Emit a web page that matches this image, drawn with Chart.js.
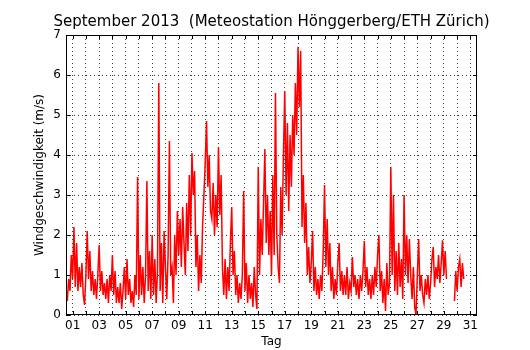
<!DOCTYPE html>
<html>
<head>
<meta charset="utf-8">
<script src="https://cdn.jsdelivr.net/npm/chart.js@4.4.1/dist/chart.umd.min.js"></script>
<style>
  html, body { margin: 0; padding: 0; background: #fff; }
</style>
</head>
<body>
<canvas id="wind-chart" width="530" height="350"></canvas>
<script>
// samples every 0.1 day, first one at x = 0.5 (start of 1 Sept)
const startDay = 0.5;
const sampleStep = 0.1;

const windDays01to05 = [
  0.7, 0.35, 0.9, 0.6, 1.5, 0.9, 2.2, 0.7, 1.8, 0.6,
  1.2, 0.7, 1.3, 0.5, 0.25, 1.0, 2.1, 0.9, 1.6, 0.6,
  1.1, 0.5, 0.9, 0.4, 1.0, 1.75, 0.6, 1.1, 0.5, 0.8,
  0.4, 0.9, 0.3, 1.0, 0.6, 1.5, 0.5, 1.1, 0.3, 0.7,
  0.3, 0.8, 0.15, 0.6, 1.2, 0.4, 1.4, 0.5, 0.9, 0.3
];
const windDays06to10 = [
  0.6, 0.2, 1.0, 0.5, 3.45, 0.4, 1.5, 0.5, 1.2, 0.3,
  1.0, 3.35, 0.6, 1.6, 0.4, 2.0, 0.5, 1.4, 0.3, 1.1,
  5.8, 0.6, 1.8, 0.3, 2.1, 1.2, 0.4, 1.5, 4.35, 1.0,
  1.2, 0.3, 2.0, 1.0, 2.6, 1.5, 2.4, 1.2, 2.7, 1.8,
  1.0, 2.8, 1.6, 3.5, 2.0, 4.05, 3.0, 3.6, 1.2, 2.0
];
const windDays11to15 = [
  0.6, 1.5, 0.8, 2.2, 3.0, 3.8, 4.85, 3.2, 4.0, 2.6,
  2.4, 3.3, 2.0, 3.0, 2.2, 4.2, 2.5, 3.5, 1.2, 0.5,
  1.4, 0.4, 1.2, 0.6, 1.8, 2.7, 1.0, 1.6, 0.5, 1.0,
  0.3, 0.8, 0.4, 1.0, 3.1, 0.6, 1.3, 0.3, 1.0, 0.4,
  0.8, 0.2, 1.2, 0.5, 0.15, 3.7, 1.0, 2.4, 1.5, 2.8
];
const windDays16to20 = [
  4.15, 1.8, 3.0, 1.5, 2.6, 1.0, 3.5, 1.5, 5.55, 2.0,
  1.2, 0.8, 3.2, 2.0, 4.0, 5.6, 3.0, 4.8, 2.6, 4.5,
  3.2, 5.0, 4.0, 5.8, 4.5, 6.7, 5.2, 6.6, 2.2, 3.5,
  1.8, 2.8, 1.0, 1.7, 0.8, 1.3, 2.1, 0.6, 1.2, 0.5,
  0.9, 0.4, 1.0, 0.6, 1.6, 3.25, 1.2, 2.4, 1.0, 1.8
];
const windDays21to25 = [
  0.6, 1.2, 0.4, 0.9, 0.5, 1.3, 1.8, 0.6, 1.1, 0.5,
  1.0, 0.5, 1.2, 0.4, 0.8, 0.6, 1.45, 0.7, 1.0, 0.5,
  0.9, 0.4, 1.0, 0.6, 1.1, 1.85, 0.7, 1.2, 0.5, 0.9,
  0.4, 1.0, 0.5, 1.2, 0.7, 1.5, 2.0, 0.6, 1.1, 0.3,
  0.9, 0.1, 1.3, 0.5, 0.8, 3.7, 1.0, 3.0, 0.6, 1.6
];
// null = missing measurements (station gap on the 29th/30th)
const windDays26to30 = [
  0.5, 1.8, 0.7, 1.4, 0.4, 3.0, 1.0, 2.0, 0.8, 1.9,
  1.0, 0.4, 1.2, 0.2, 0.0, 1.0, 1.9, 0.6, 1.0, 0.5,
  0.3, 0.9, 0.5, 1.0, 0.4, 0.8, 1.4, 1.7, 0.7, 1.2,
  0.9, 1.5, 0.8, 1.3, 1.87, 1.0, 1.6, 0.9, null, null,
  null, null, null, 0.35, 1.1, 0.6, 1.2, 1.4, 0.7, 1.3,
  0.9
];

const dayTicks = [];
for (let d = 1; d <= 31; d++) dayTicks.push(d);
const speedTicks = [0, 1, 2, 3, 4, 5, 6, 7];

const windSpeed = [].concat(windDays01to05, windDays06to10, windDays11to15,
                            windDays16to20, windDays21to25, windDays26to30);
const windPoints = windSpeed.map((v, i) => ({
  x: +(startDay + i * sampleStep).toFixed(2),
  y: v
}));

const fontFamily = "'DejaVu Sans', sans-serif";
const tickLen = 4;

// matplotlib style frame with inward ticks on all four sides,
// title centred over the plot area instead of the whole canvas
const frameTicks = {
  id: 'frameTicks',
  afterLayout(chart) {
    const t = chart.titleBlock;
    if (t) {
      t.left = 0;
      t.right = chart.chartArea.left + chart.chartArea.right;
      t.width = t.right - t.left;
    }
  },
  afterDatasetsDraw(chart) {
    const { ctx, chartArea: a, scales: { x, y } } = chart;
    ctx.save();
    ctx.strokeStyle = '#000';
    ctx.lineWidth = 1;
    ctx.beginPath();
    x.ticks.forEach(t => {
      const px = Math.round(x.getPixelForValue(t.value)) + 0.5;
      ctx.moveTo(px, a.bottom);
      ctx.lineTo(px, a.bottom - tickLen);
      ctx.moveTo(px, a.top);
      ctx.lineTo(px, a.top + tickLen);
    });
    y.ticks.forEach(t => {
      const py = Math.round(y.getPixelForValue(t.value)) + 0.5;
      ctx.moveTo(a.left, py);
      ctx.lineTo(a.left + tickLen, py);
      ctx.moveTo(a.right, py);
      ctx.lineTo(a.right - tickLen, py);
    });
    ctx.stroke();
    ctx.strokeRect(Math.round(a.left) + 0.5, Math.round(a.top) + 0.5,
                   Math.round(a.width) - 1, Math.round(a.height) - 1);
    ctx.restore();
  }
};

const gridStyle = {
  color: 'rgba(0,0,0,0.75)',
  lineWidth: 1,
  drawTicks: false
};

new Chart(document.getElementById('wind-chart'), {
  type: 'line',
  data: {
    datasets: [{
      data: windPoints,
      borderColor: '#ff0000',
      borderWidth: 1.5,
      pointRadius: 0,
      tension: 0,
      spanGaps: false
    }]
  },
  options: {
    responsive: false,
    animation: false,
    events: [],
    layout: { padding: { top: 0, right: 53, bottom: 0, left: 0 } },
    plugins: {
      legend: { display: false },
      tooltip: { enabled: false },
      title: {
        display: true,
        text: 'September 2013  (Meteostation Hönggerberg/ETH Zürich)',
        color: '#000',
        font: { family: fontFamily, size: 15, weight: 'normal' },
        padding: { top: 13, bottom: 4 }
      }
    },
    scales: {
      x: {
        type: 'linear',
        min: 0.5,
        max: 31.5,
        afterBuildTicks: scale => { scale.ticks = dayTicks.map(v => ({ value: v })); },
        afterFit: scale => { scale.height = 35; },
        grid: gridStyle,
        border: { display: false, dash: [1, 3] },
        ticks: {
          autoSkip: false,
          maxRotation: 0,
          padding: 4,
          color: '#000',
          font: { family: fontFamily, size: 12 },
          callback: v => (v % 2 === 1 ? String(v).padStart(2, '0') : '')
        },
        title: {
          display: true,
          text: 'Tag',
          color: '#000',
          font: { family: fontFamily, size: 12 },
          padding: { top: 0, bottom: 1 }
        }
      },
      y: {
        min: 0,
        max: 7,
        afterBuildTicks: scale => { scale.ticks = speedTicks.map(v => ({ value: v })); },
        afterFit: scale => { scale.width = 66; },
        grid: gridStyle,
        border: { display: false, dash: [1, 3] },
        ticks: {
          padding: 5,
          color: '#000',
          font: { family: fontFamily, size: 12 }
        },
        title: {
          display: true,
          text: 'Windgeschwindigkeit (m/s)',
          color: '#000',
          font: { family: fontFamily, size: 12 },
          padding: { top: 33, bottom: 0 }
        }
      }
    }
  },
  plugins: [frameTicks]
});
</script>
</body>
</html>
